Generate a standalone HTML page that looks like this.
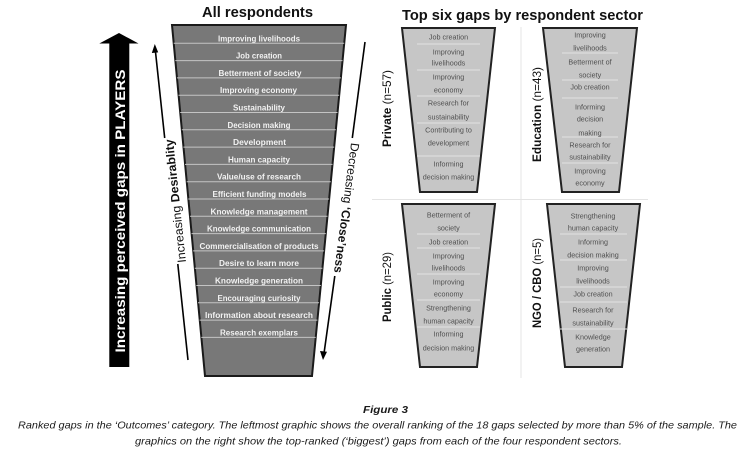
<!DOCTYPE html>
<html><head><meta charset="utf-8"><style>
html,body{margin:0;padding:0;background:#fff;width:750px;height:459px;overflow:hidden}
svg{display:block}
text{font-family:"Liberation Sans",sans-serif}
.ml{font-size:8px;font-weight:bold;fill:#f2f2f2;text-anchor:middle}
.sl{font-size:7.2px;fill:#505050;text-anchor:middle}
</style></head><body>
<svg width="750" height="459" viewBox="0 0 750 459" xmlns="http://www.w3.org/2000/svg">
<!-- Titles -->
<text x="257.5" y="17" font-size="14.5" font-weight="bold" text-anchor="middle" textLength="111" lengthAdjust="spacingAndGlyphs" fill="#111">All respondents</text>
<text x="522.5" y="20" font-size="15" font-weight="bold" text-anchor="middle" textLength="241" lengthAdjust="spacingAndGlyphs" fill="#111">Top six gaps by respondent sector</text>

<!-- Big black arrow -->
<polygon points="119,33 138.5,43.5 129.3,43.5 129.3,367 109.3,367 109.3,43.5 99.3,43.5" fill="#000"/>
<text transform="translate(120,211) rotate(-90)" font-size="14" font-weight="bold" fill="#fff" text-anchor="middle" dominant-baseline="central" textLength="283" lengthAdjust="spacingAndGlyphs">Increasing perceived gaps in PLAYERS</text>

<!-- Left thin arrow -->
<line x1="155.3" y1="50" x2="164.7" y2="138" stroke="#000" stroke-width="1.6"/>
<line x1="177.8" y1="264" x2="188" y2="360" stroke="#000" stroke-width="1.6"/>
<polygon points="154.8,44 151.8,53 158.2,52.4" fill="#000"/>
<text transform="translate(175.5,201) rotate(-96)" font-size="12" text-anchor="middle" dominant-baseline="central" fill="#111" textLength="124" lengthAdjust="spacingAndGlyphs">Increasing <tspan font-weight="bold">Desirablity</tspan></text>

<!-- Right thin arrow -->
<line x1="365" y1="42" x2="352.3" y2="138" stroke="#000" stroke-width="1.6"/>
<line x1="334.8" y1="276" x2="324.2" y2="352" stroke="#000" stroke-width="1.6"/>
<polygon points="323,360 320,351 327,351.8" fill="#000"/>
<text transform="translate(346.5,208) rotate(97.5)" font-size="12" text-anchor="middle" dominant-baseline="central" fill="#111" textLength="131" lengthAdjust="spacingAndGlyphs">Decreasing <tspan font-weight="bold">‘Close’ness</tspan></text>

<!-- Main funnel -->
<polygon points="172,25 346,25 312,376 205,376" fill="#787878" stroke="#1a1a1a" stroke-width="2" stroke-linejoin="miter"/>
<g stroke="#c4c4c4" stroke-width="1">
<line x1="173.7" y1="43.3" x2="344.2" y2="43.3"/>
<line x1="175.3" y1="60.6" x2="342.5" y2="60.6"/>
<line x1="176.9" y1="77.9" x2="340.9" y2="77.9"/>
<line x1="178.5" y1="95.2" x2="339.2" y2="95.2"/>
<line x1="180.2" y1="112.5" x2="337.5" y2="112.5"/>
<line x1="181.8" y1="129.8" x2="335.8" y2="129.8"/>
<line x1="183.4" y1="147.1" x2="334.2" y2="147.1"/>
<line x1="185.0" y1="164.4" x2="332.5" y2="164.4"/>
<line x1="186.7" y1="181.7" x2="330.8" y2="181.7"/>
<line x1="188.3" y1="199.0" x2="329.1" y2="199.0"/>
<line x1="189.9" y1="216.3" x2="327.5" y2="216.3"/>
<line x1="191.5" y1="233.6" x2="325.8" y2="233.6"/>
<line x1="193.1" y1="250.9" x2="324.1" y2="250.9"/>
<line x1="194.8" y1="268.2" x2="322.4" y2="268.2"/>
<line x1="196.4" y1="285.5" x2="320.8" y2="285.5"/>
<line x1="198.0" y1="302.8" x2="319.1" y2="302.8"/>
<line x1="199.6" y1="320.1" x2="317.4" y2="320.1"/>
<line x1="201.3" y1="337.4" x2="315.7" y2="337.4"/>
</g>
<g>
<text class="ml" x="259" y="41.3" textLength="82" lengthAdjust="spacingAndGlyphs">Improving livelihoods</text>
<text class="ml" x="259" y="58.6" textLength="46" lengthAdjust="spacingAndGlyphs">Job creation</text>
<text class="ml" x="260" y="75.9" textLength="83" lengthAdjust="spacingAndGlyphs">Betterment of society</text>
<text class="ml" x="258.5" y="93.2" textLength="77" lengthAdjust="spacingAndGlyphs">Improving economy</text>
<text class="ml" x="259" y="110.5" textLength="52" lengthAdjust="spacingAndGlyphs">Sustainability</text>
<text class="ml" x="259" y="127.8" textLength="63" lengthAdjust="spacingAndGlyphs">Decision making</text>
<text class="ml" x="259.5" y="145.1" textLength="53" lengthAdjust="spacingAndGlyphs">Development</text>
<text class="ml" x="259" y="162.4" textLength="62" lengthAdjust="spacingAndGlyphs">Human capacity</text>
<text class="ml" x="259" y="179.7" textLength="84" lengthAdjust="spacingAndGlyphs">Value/use of research</text>
<text class="ml" x="259.5" y="197.0" textLength="94" lengthAdjust="spacingAndGlyphs">Efficient funding models</text>
<text class="ml" x="259" y="214.3" textLength="97" lengthAdjust="spacingAndGlyphs">Knowledge management</text>
<text class="ml" x="259" y="231.6" textLength="104" lengthAdjust="spacingAndGlyphs">Knowledge communication</text>
<text class="ml" x="259" y="248.9" textLength="119" lengthAdjust="spacingAndGlyphs">Commercialisation of products</text>
<text class="ml" x="259" y="266.2" textLength="80" lengthAdjust="spacingAndGlyphs">Desire to learn more</text>
<text class="ml" x="259" y="283.5" textLength="88" lengthAdjust="spacingAndGlyphs">Knowledge generation</text>
<text class="ml" x="259" y="300.8" textLength="83" lengthAdjust="spacingAndGlyphs">Encouraging curiosity</text>
<text class="ml" x="259" y="318.1" textLength="108" lengthAdjust="spacingAndGlyphs">Information about research</text>
<text class="ml" x="259" y="335.4" textLength="78" lengthAdjust="spacingAndGlyphs">Research exemplars</text>
</g>

<!-- Right separators -->
<line x1="521" y1="27" x2="521" y2="378" stroke="#e4e4e4" stroke-width="1"/>
<line x1="372" y1="199.5" x2="648" y2="199.5" stroke="#e4e4e4" stroke-width="1"/>

<!-- Side labels -->
<text transform="translate(387,108.5) rotate(-90)" font-size="12" text-anchor="middle" dominant-baseline="central" fill="#111" textLength="77" lengthAdjust="spacingAndGlyphs"><tspan font-weight="bold">Private</tspan> (n=57)</text>
<text transform="translate(537,114.5) rotate(-90)" font-size="12" text-anchor="middle" dominant-baseline="central" fill="#111" textLength="95" lengthAdjust="spacingAndGlyphs"><tspan font-weight="bold">Education</tspan> (n=43)</text>
<text transform="translate(387,287) rotate(-90)" font-size="12" text-anchor="middle" dominant-baseline="central" fill="#111" textLength="70" lengthAdjust="spacingAndGlyphs"><tspan font-weight="bold">Public</tspan> (n=29)</text>
<text transform="translate(537,283) rotate(-90)" font-size="12" text-anchor="middle" dominant-baseline="central" fill="#111" textLength="90" lengthAdjust="spacingAndGlyphs"><tspan font-weight="bold">NGO / CBO</tspan> (n=5)</text>

<!-- Private funnel -->
<polygon points="402,28 495,28 477,192 420,192" fill="#c6c6c6" stroke="#222" stroke-width="2"/>
<g stroke="#e2e2e2" stroke-width="1">
<line x1="417" y1="44" x2="480" y2="44"/><line x1="417" y1="70" x2="480" y2="70"/>
<line x1="417" y1="96" x2="480" y2="96"/><line x1="417" y1="123" x2="480" y2="123"/>
<line x1="417" y1="156" x2="480" y2="156"/>
</g>
<g>
<text class="sl" x="448.5" y="39.5">Job creation</text>
<text class="sl" x="448.5" y="54.5">Improving</text>
<text class="sl" x="448.5" y="65.5">livelihoods</text>
<text class="sl" x="448.5" y="79.5">Improving</text>
<text class="sl" x="448.5" y="92.5">economy</text>
<text class="sl" x="448.5" y="105.5">Research for</text>
<text class="sl" x="448.5" y="119.5">sustainability</text>
<text class="sl" x="448.5" y="132.5">Contributing to</text>
<text class="sl" x="448.5" y="145.5">development</text>
<text class="sl" x="448.5" y="166.5">Informing</text>
<text class="sl" x="448.5" y="179.5">decision making</text>
</g>

<!-- Education funnel -->
<polygon points="543,28 637,28 619,192 562,192" fill="#c6c6c6" stroke="#222" stroke-width="2"/>
<g stroke="#e2e2e2" stroke-width="1">
<line x1="562" y1="53" x2="618" y2="53"/><line x1="562" y1="80" x2="618" y2="80"/>
<line x1="562" y1="98" x2="618" y2="98"/><line x1="562" y1="137" x2="618" y2="137"/>
<line x1="562" y1="163" x2="618" y2="163"/>
</g>
<g>
<text class="sl" x="590" y="37.5">Improving</text>
<text class="sl" x="590" y="50.5">livelihoods</text>
<text class="sl" x="590" y="64.5">Betterment of</text>
<text class="sl" x="590" y="77.5">society</text>
<text class="sl" x="590" y="89.5">Job creation</text>
<text class="sl" x="590" y="109.5">Informing</text>
<text class="sl" x="590" y="121.5">decision</text>
<text class="sl" x="590" y="135.5">making</text>
<text class="sl" x="590" y="147.5">Research for</text>
<text class="sl" x="590" y="159.5">sustainability</text>
<text class="sl" x="590" y="173.5">Improving</text>
<text class="sl" x="590" y="185.5">economy</text>
</g>

<!-- Public funnel -->
<polygon points="402,204 495,204 477,367 420,367" fill="#c6c6c6" stroke="#222" stroke-width="2"/>
<g stroke="#e2e2e2" stroke-width="1">
<line x1="417" y1="234" x2="480" y2="234"/><line x1="417" y1="248" x2="480" y2="248"/>
<line x1="417" y1="274" x2="480" y2="274"/><line x1="417" y1="300" x2="480" y2="300"/>
<line x1="417" y1="327" x2="480" y2="327"/>
</g>
<g>
<text class="sl" x="448.5" y="217.5">Betterment of</text>
<text class="sl" x="448.5" y="230.5">society</text>
<text class="sl" x="448.5" y="244.5">Job creation</text>
<text class="sl" x="448.5" y="258.5">Improving</text>
<text class="sl" x="448.5" y="270.5">livelihoods</text>
<text class="sl" x="448.5" y="284.5">Improving</text>
<text class="sl" x="448.5" y="296.5">economy</text>
<text class="sl" x="448.5" y="310.5">Strengthening</text>
<text class="sl" x="448.5" y="323.5">human capacity</text>
<text class="sl" x="448.5" y="336.5">Informing</text>
<text class="sl" x="448.5" y="350.5">decision making</text>
</g>

<!-- NGO funnel -->
<polygon points="547,204 640,204 622,367 565,367" fill="#c6c6c6" stroke="#222" stroke-width="2"/>
<g stroke="#e2e2e2" stroke-width="1">
<line x1="560" y1="234" x2="627" y2="234"/><line x1="560" y1="260" x2="627" y2="260"/>
<line x1="560" y1="287" x2="627" y2="287"/><line x1="560" y1="302" x2="627" y2="302"/>
<line x1="560" y1="329" x2="627" y2="329"/>
</g>
<g>
<text class="sl" x="593" y="218.5">Strengthening</text>
<text class="sl" x="593" y="230.5">human capacity</text>
<text class="sl" x="593" y="244.5">Informing</text>
<text class="sl" x="593" y="257.5">decision making</text>
<text class="sl" x="593" y="270.5">Improving</text>
<text class="sl" x="593" y="283.5">livelihoods</text>
<text class="sl" x="593" y="296.5">Job creation</text>
<text class="sl" x="593" y="312.5">Research for</text>
<text class="sl" x="593" y="325.5">sustainability</text>
<text class="sl" x="593" y="339.5">Knowledge</text>
<text class="sl" x="593" y="351.5">generation</text>
</g>

<!-- Caption -->
<text x="385.5" y="413" font-size="10.5" font-weight="bold" font-style="italic" text-anchor="middle" fill="#1a1a1a" textLength="45" lengthAdjust="spacingAndGlyphs">Figure 3</text>
<text x="18" y="428.5" font-size="10.5" font-style="italic" fill="#1a1a1a" textLength="719" lengthAdjust="spacingAndGlyphs">Ranked gaps in the ‘Outcomes’ category. The leftmost graphic shows the overall ranking of the 18 gaps selected by more than 5% of the sample. The</text>
<text x="135" y="444.5" font-size="10.5" font-style="italic" fill="#1a1a1a" textLength="487" lengthAdjust="spacingAndGlyphs">graphics on the right show the top-ranked (‘biggest’) gaps from each of the four respondent sectors.</text>
</svg>
</body></html>
